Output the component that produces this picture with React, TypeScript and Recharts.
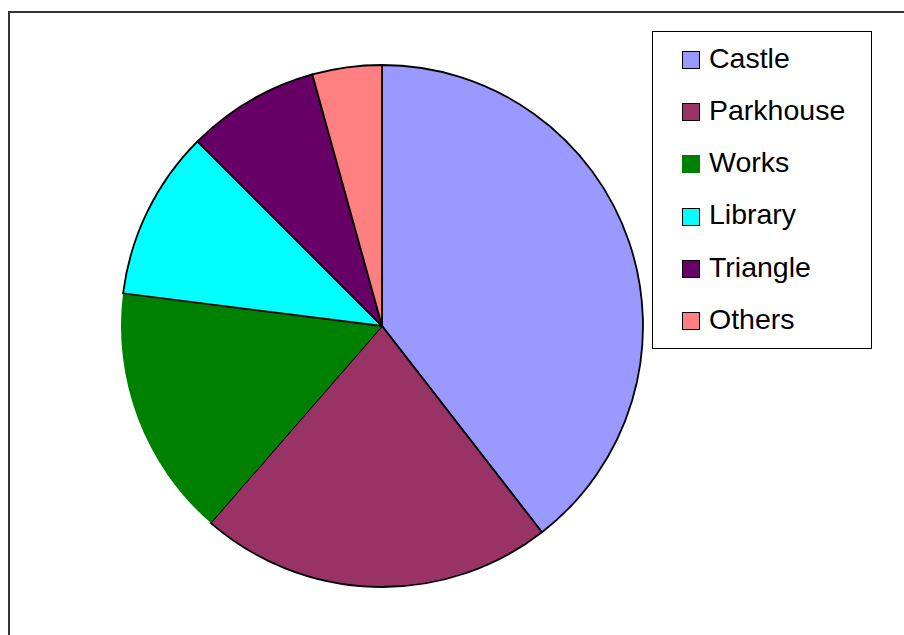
import React from "react";
import { Cell, Legend, Pie, PieChart } from "recharts";

const NAMES = ["Castle", "Parkhouse", "Works", "Library", "Triangle", "Others"];
const VALUES = [39.5, 21.9, 15.6, 10.5, 8.2, 4.3];
const COLORS = ["#9999FF", "#993366", "#008000", "#00FFFF", "#660066", "#FF8080"];
const OUTLINED = [true, true, false, true, true, true];

const data = NAMES.map((name, i) => ({ name, value: VALUES[i] }));

const renderLegend = () => (
  <div
    style={{
      width: 218,
      height: 314,
      border: "1px solid #000",
      background: "#fff",
      paddingTop: 2,
      boxSizing: "content-box",
      fontFamily: "'Liberation Sans', Arial, sans-serif",
      fontSize: 28.5,
      color: "#000",
    }}
  >
    {NAMES.map((name, i) => (
      <div
        key={name}
        style={{ height: 52.2, display: "flex", alignItems: "center", paddingLeft: 29 }}
      >
        <span
          style={{
            display: "inline-block",
            width: 16,
            height: 16,
            background: COLORS[i],
            border: `1px solid ${OUTLINED[i] ? "#000" : COLORS[i]}`,
            marginRight: 9,
          }}
        />
        <span style={{ lineHeight: 1, position: "relative", top: -2 }}>{name}</span>
      </div>
    ))}
  </div>
);

export default function App() {
  return (
    <div
      style={{
        position: "absolute",
        left: 0,
        top: 0,
        width: 904,
        height: 635,
        overflow: "hidden",
        background: "#fff",
      }}
    >
      <div
        style={{
          position: "absolute",
          left: 8,
          top: 11,
          width: 1000,
          height: 800,
          borderTop: "2px solid #333",
          borderLeft: "2px solid #333",
        }}
      />
      <div style={{ position: "absolute", left: 0, top: 0 }}>
        <PieChart
          width={904}
          height={635}
          margin={{ top: 0, right: 0, bottom: 0, left: 0 }}
        >
          <Pie
            data={data}
            dataKey="value"
            nameKey="name"
            cx={382}
            cy={326}
            outerRadius={261}
            startAngle={90}
            endAngle={-270}
            stroke="#000"
            strokeWidth={1.8}
            isAnimationActive={false}
          >
            {data.map((entry, i) => (
              <Cell
                key={`cell-${i}`}
                fill={COLORS[i]}
                stroke={OUTLINED[i] ? "#000" : "none"}
              />
            ))}
          </Pie>
          <Legend
            content={renderLegend}
            wrapperStyle={{ position: "absolute", left: 652, top: 31, width: "auto" }}
          />
        </PieChart>
      </div>
    </div>
  );
}
